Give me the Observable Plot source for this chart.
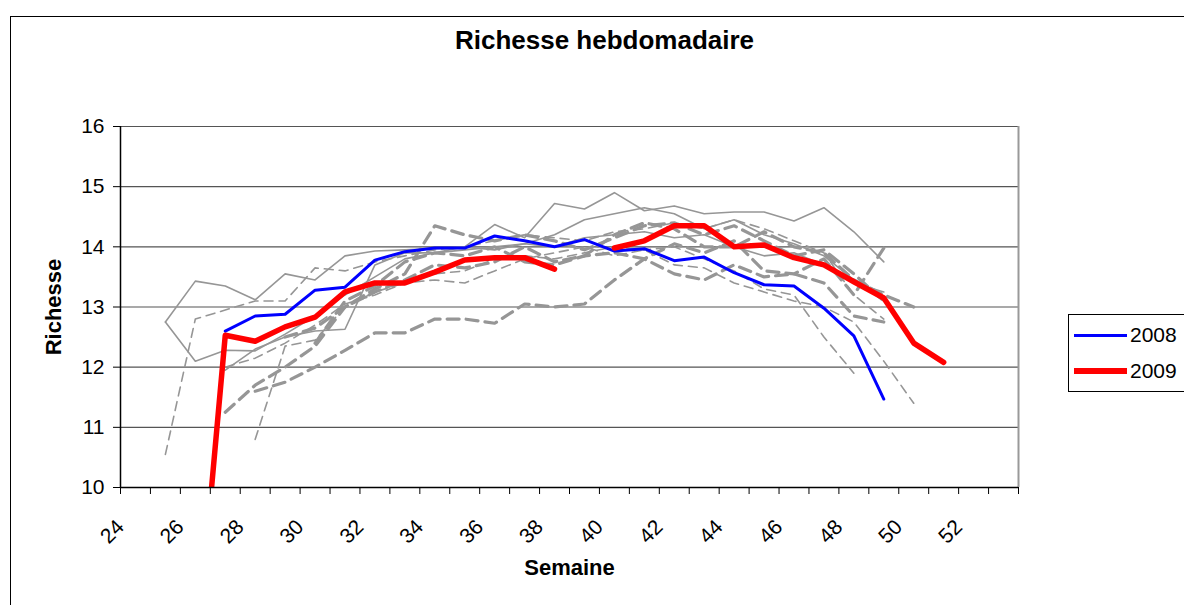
<!DOCTYPE html>
<html>
<head>
<meta charset="utf-8">
<script src="https://cdn.jsdelivr.net/npm/d3@7"></script>
<script src="https://cdn.jsdelivr.net/npm/@observablehq/plot@0.6"></script>
<style>
  html, body { margin: 0; padding: 0; background: #fff; overflow: hidden; }
  #wrap { position: relative; width: 1184px; height: 605px; overflow: hidden; font-family: "Liberation Sans", Arial, sans-serif; }
  #wrap svg { position: absolute; left: 0; top: 0; }
  #border { position: absolute; left: 10px; top: 16px; width: 1200px; height: 620px; border: 1px solid #000; box-sizing: border-box; }
  #legend { position: absolute; left: 1068px; top: 314px; width: 140px; height: 78px; border: 1px solid #000; background: #fff; box-sizing: border-box; }
  .lg-row { position: absolute; left: 0; height: 30px; width: 140px; }
  .lg-line { position: absolute; left: 5px; width: 53px; }
  .lg-text { position: absolute; left: 61px; font-size: 21px; line-height: 21px; color: #000; }
</style>
</head>
<body>
<div id="wrap">
  <div id="border"></div>
</div>
<script>
// ---- data ----
const title = "Richesse hebdomadaire";
const xLabel = "Semaine";
const yLabel = "Richesse";
const weeks = [25,26,27,28,29,30,31,32,33,34,35,36,37,38,39,40,41,42,43,44,45,46,47,48,49,50,51];
const xTickMarks = d3.range(24, 55);
const xTickLabels = [24,26,28,30,32,34,36,38,40,42,44,46,48,50,52];
const yTicks = [10,11,12,13,14,15,16];
const yGrid = [11,12,13,14,15,16];

const seriesNames = ["2008", "2009"];
const seriesColors = ["#0000ff", "#ff0000"];
const seriesWidths = [3, 5.5];

//            25    26    27    28    29    30    31    32    33    34    35    36    37    38    39    40    41    42    43    44    45    46    47    48    49    50    51
const v2008 = [null, null, 12.6, 12.85,12.88,13.28,13.33,13.78,13.92,13.98,13.98,14.18,14.1, 14.0, 14.12,13.93,13.97,13.77,13.83,13.57,13.37,13.35,12.98,12.52,11.47,null, null];
const v2009 = [null, 7.0,  12.53,12.43,12.67,12.83,13.25,13.4, 13.4, 13.58,13.78,13.82,13.82,13.63,null, 13.98,14.1, 14.35,14.35,14.0, 14.03,13.82,13.7, 13.42,13.15,12.4, 12.08];

// other years (grey)
const graySolid = {
  A: [12.75,13.43,13.35,13.12,13.55,13.45,13.85,13.93,13.95,13.97,14.0, 14.37,14.15,14.72,14.63,14.9, 14.6, 14.68,14.55,14.58,14.58,14.43,14.65,14.25,13.75,null, null],
  B: [12.75,12.1, 12.28,12.27,12.55,12.85,13.2, 13.5, 13.8, 13.9, 13.95,14.0, 14.05,14.2, 14.45,14.55,14.65,14.55,14.3, 14.45,14.2, 14.05,13.85,13.45,13.1, null, null],
  C: [null, null, 11.95,12.3, 12.5, 12.6, 12.63,13.7, 13.9, 13.9, 14.0, 13.95,14.05,14.0, 14.15,14.2, 14.25,14.15,14.2, 14.0, 13.85,13.9, 13.7, 13.4, 13.25,null, null]
};
const grayDashed = {
  D: [10.55,12.8, 12.95,13.1, 13.1, 13.65,13.6, 13.75,13.85,13.95,14.0, 14.1, 14.2, 14.15,14.1, 14.25,14.3, 14.4, 14.3, 14.45,14.3, 14.1, 13.9, 13.2, 12.8, null, null],
  E: [null, null, null, 10.8, 12.35,12.45,13.0, 13.25,13.4, 13.55,13.6, 13.8, 13.85,13.8, 13.9, 14.0, 13.95,14.0, 13.8, 13.6, 13.3, 13.2, 12.5, 11.9, null, null, null],
  F: [null, null, 12.0, 12.15,12.4, 12.7, 13.05,13.2, 13.4, 13.45,13.4, 13.6, 13.8, 13.9, 14.0, 13.85,13.95,13.7, 13.65,13.4, 13.25,13.1, 13.0, 12.75,12.1, 11.4, null]
};
const grayThick = {
  G: [null, null, 11.25,11.7, 12.0, 12.35,13.0, 13.3, 13.55,14.35,14.2, 14.1, 14.2, 14.1, 13.95,14.15,14.35,14.4, 14.2, 14.35,14.1, 13.85,13.95,13.55,13.1, null, null],
  H: [null, null, null, 11.6, 11.75,12.0, 12.28,12.57,12.57,12.8, 12.8, 12.73,13.05,13.0, 13.05,13.45,13.8, 14.05,13.9, 14.1, 13.6, 13.55,13.8, 13.2, 13.98,null, null],
  I: [null, null, null, null, 12.5, 12.65,13.0, 13.25,13.45,13.7, 13.65,13.75,14.0, 13.75,13.85,14.2, 14.4, 14.3, 14.0, 14.0, 14.25,14.0, 13.9, 13.45,13.2, 13.0, null],
  J: [null, null, null, null, null, 12.4, 13.1, 13.35,13.75,13.9, 13.85,14.0, 13.75,13.7, 13.85,13.9, 13.8, 13.55,13.45,13.7, 13.5, 13.55,13.4, 12.85,12.75,null, null]
};

// ---- build tidy rows ----
function rows(obj) {
  const out = [];
  for (const [name, vals] of Object.entries(obj)) {
    weeks.forEach((w, i) => out.push({series: name, week: w, value: vals[i]}));
  }
  return out;
}
const main = rows({"2008": v2008, "2009": v2009});
const solidRows = rows(graySolid);
const dashedRows = rows(grayDashed);
const thickRows = rows(grayThick);

const pos = d => d.week + 0.5; // categories centred between tick marks
const grey = "#969696";
const font = "Liberation Sans, Arial, sans-serif";

const chart = Plot.plot({
  width: 1184,
  height: 605,
  marginLeft: 120,
  marginRight: 166,
  marginTop: 126,
  marginBottom: 118,
  style: {fontFamily: font, background: "transparent", color: "#000", overflow: "visible"},
  x: {domain: [24, 54], label: null},
  y: {domain: [10, 16], label: null},
  marks: [
    Plot.gridY(yGrid, {stroke: "#555", strokeOpacity: 1, strokeWidth: 1.2}),
    Plot.ruleX([54], {stroke: "#999", strokeWidth: 2}),
    Plot.line(solidRows, {x: pos, y: "value", z: "series", stroke: grey, strokeWidth: 1.6, clip: true}),
    Plot.line(dashedRows, {x: pos, y: "value", z: "series", stroke: grey, strokeWidth: 1.6, strokeDasharray: "9,6", clip: true}),
    Plot.line(thickRows, {x: pos, y: "value", z: "series", stroke: grey, strokeWidth: 3.2, strokeDasharray: "12,7", clip: true}),
    Plot.line(main, {x: pos, y: "value", z: "series",
      stroke: d => seriesColors[seriesNames.indexOf(d.series)],
      strokeWidth: d => seriesWidths[seriesNames.indexOf(d.series)], clip: true}),
    Plot.ruleY([10], {stroke: "#000", strokeWidth: 1.5}),
    Plot.ruleX([24], {stroke: "#000", strokeWidth: 1.5}),
    Plot.axisY({ticks: yTicks, tickSize: 7, tickPadding: 9, fontSize: 21, tickFormat: d => String(d), label: null}),
    Plot.axisX({ticks: xTickMarks, tickSize: 7, tickFormat: () => "", label: null}),
    Plot.axisX({ticks: xTickLabels, tickSize: 0, tickPadding: 36, tickRotate: -45, fontSize: 21, tickFormat: d => String(d), label: null}),
    Plot.text([title], {frameAnchor: "top", lineAnchor: "middle", dx: 35, dy: -86, fontSize: 26, fontWeight: "bold", fill: "#000"}),
    Plot.text([xLabel], {frameAnchor: "bottom", lineAnchor: "middle", dy: 80, fontSize: 22, fontWeight: "bold", fill: "#000"}),
    Plot.text([yLabel], {frameAnchor: "left", lineAnchor: "middle", textAnchor: "middle", dx: -67, rotate: -90, fontSize: 22, fontWeight: "bold", fill: "#000"})
  ]
});
document.getElementById("wrap").appendChild(chart);

// legend
const legend = document.createElement("div");
legend.id = "legend";
seriesNames.forEach((name, i) => {
  const row = document.createElement("div");
  row.className = "lg-row";
  row.style.top = (i * 36 + 5) + "px";
  const line = document.createElement("div");
  line.className = "lg-line";
  line.style.background = seriesColors[i];
  line.style.height = Math.round(seriesWidths[i]) + "px";
  line.style.top = (15 - Math.round(seriesWidths[i]) / 2) + "px";
  const txt = document.createElement("div");
  txt.className = "lg-text";
  txt.style.top = "4px";
  txt.textContent = name;
  row.appendChild(line);
  row.appendChild(txt);
  legend.appendChild(row);
});
document.getElementById("wrap").appendChild(legend);
</script>
</body>
</html>
